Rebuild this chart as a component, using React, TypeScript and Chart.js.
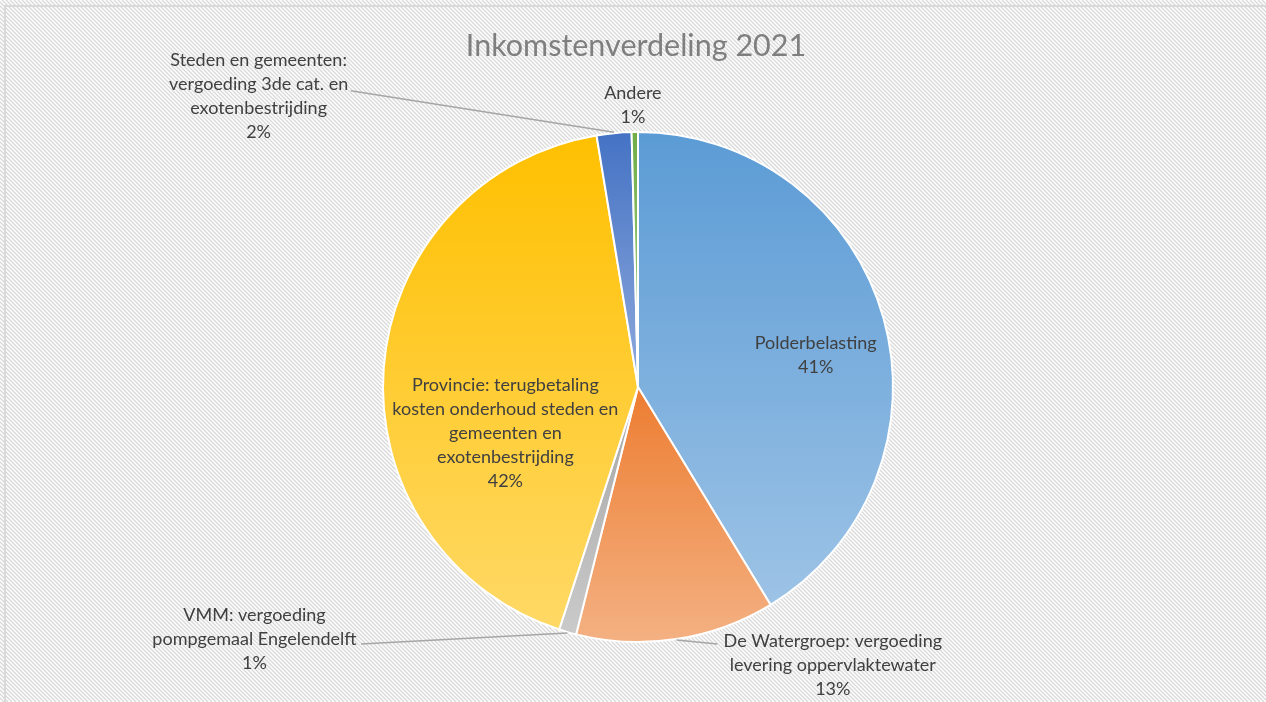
import React, { useEffect, useRef } from "react";
import { Chart, registerables } from "chart.js";

Chart.register(...registerables);

const chartTitle = "Inkomstenverdeling 2021";

const categories = [
  "Polderbelasting",
  "De Watergroep: vergoeding levering oppervlaktewater",
  "VMM: vergoeding pompgemaal Engelendelft",
  "Provincie: terugbetaling kosten onderhoud steden en gemeenten en exotenbestrijding",
  "Steden en gemeenten: vergoeding 3de cat. en exotenbestrijding",
  "Andere",
];

// label text as wrapped in the reference
const labelLines = [
  ["Polderbelasting"],
  ["De Watergroep: vergoeding", "levering oppervlaktewater"],
  ["VMM: vergoeding", "pompgemaal Engelendelft"],
  ["Provincie: terugbetaling", "kosten onderhoud steden en", "gemeenten en", "exotenbestrijding"],
  ["Steden en gemeenten:", "vergoeding 3de cat. en", "exotenbestrijding"],
  ["Andere"],
];

const values = [41.3, 12.6, 1.1, 42.4, 2.2, 0.4];
const percentLabels = ["41%", "13%", "1%", "42%", "2%", "1%"];

const topColors = ["#5b9bd5", "#ed7d31", "#a5a5a5", "#ffc000", "#4472c4", "#70ad47"];
const bottomColors = ["#9dc3e6", "#f4b183", "#cacaca", "#ffd966", "#8faadc", "#a9d18e"];

// label block centres, in units of the pie radius relative to pie centre
const labelPositions: [number, number][] = [
  [0.694, -0.124],
  [0.761, 1.086],
  [-1.498, 0.984],
  [-0.518, 0.182],
  [-1.482, -1.137],
  [-0.02, -1.102],
];

// leader line end points (radius units), null = no leader line
const leaderEnds: ([number, number] | null)[] = [
  null,
  [0.31, 1.004],
  [-1.082, 1.004],
  null,
  [-1.122, -1.157],
  null,
];

const LABEL_FONT = "18px Lato, 'Open Sans', sans-serif";
const TITLE_FONT = "30.5px Lato, 'Open Sans', sans-serif";

function sliceGradient(context: any) {
  const chart = context.chart;
  const area = chart.chartArea;
  const i = context.dataIndex;
  if (!area) return topColors[i];
  const cx = (area.left + area.right) / 2;
  const cy = (area.top + area.bottom) / 2;
  const r = Math.min(area.right - area.left, area.bottom - area.top) / 2;
  const total = values.reduce((a, b) => a + b, 0);
  const before = values.slice(0, i).reduce((a, b) => a + b, 0);
  const start = (before / total) * Math.PI * 2;
  const end = ((before + values[i]) / total) * Math.PI * 2;
  const ys = [cy, cy - r * Math.cos(start), cy - r * Math.cos(end)];
  if (start <= 1e-6 || end >= Math.PI * 2 - 1e-6) ys.push(cy - r);
  if (start <= Math.PI && end >= Math.PI) ys.push(cy + r);
  const yMin = Math.min(...ys);
  const yMax = Math.max(...ys);
  const g = chart.ctx.createLinearGradient(0, yMin, 0, Math.max(yMax, yMin + 1));
  g.addColorStop(0, topColors[i]);
  g.addColorStop(1, bottomColors[i]);
  return g;
}

const backgroundPlugin = {
  id: "hatchBackground",
  beforeDraw(chart: any) {
    const { ctx, width, height } = chart;
    ctx.save();
    ctx.fillStyle = "#ffffff";
    ctx.fillRect(0, 0, width, height);
    ctx.strokeStyle = "#d9d9d9";
    ctx.lineWidth = 1.4;
    ctx.beginPath();
    for (let x = -height; x < width + height; x += 4) {
      ctx.moveTo(x, 0);
      ctx.lineTo(x + height, height);
    }
    ctx.stroke();
    ctx.strokeStyle = "#d9d9d9";
    ctx.lineWidth = 2;
    ctx.strokeRect(5, 6, width + 20, height + 20);
    ctx.restore();
  },
};

const labelPlugin = {
  id: "pieLabels",
  afterDatasetsDraw(chart: any) {
    const { ctx } = chart;
    const meta = chart.getDatasetMeta(0);
    ctx.save();
    // title
    ctx.font = TITLE_FONT;
    ctx.fillStyle = "#7f7f7f";
    ctx.textAlign = "center";
    ctx.textBaseline = "middle";
    ctx.fillText(chartTitle, 636, 46);

    meta.data.forEach((arc: any, i: number) => {
      const { x, y, outerRadius, startAngle, endAngle } = arc.getProps(
        ["x", "y", "outerRadius", "startAngle", "endAngle"],
        true
      );
      const r = outerRadius + 1;
      const mid = (startAngle + endAngle) / 2;
      const le = leaderEnds[i];
      if (le) {
        ctx.strokeStyle = "#a6a6a6";
        ctx.lineWidth = 1.5;
        ctx.beginPath();
        ctx.moveTo(x + Math.cos(mid) * r, y + Math.sin(mid) * r);
        ctx.lineTo(x + le[0] * r, y + le[1] * r);
        ctx.stroke();
      }
      const [fx, fy] = labelPositions[i];
      const lx = x + fx * r;
      const ly = y + fy * r;
      const lines = [...labelLines[i], percentLabels[i]];
      const lh = 24;
      ctx.font = LABEL_FONT;
      ctx.fillStyle = "#404040";
      ctx.textAlign = "center";
      ctx.textBaseline = "middle";
      lines.forEach((t, k) => {
        ctx.fillText(t, lx, ly - ((lines.length - 1) * lh) / 2 + k * lh);
      });
    });
    ctx.restore();
  },
};

export default function App() {
  const ref = useRef<HTMLCanvasElement | null>(null);
  useEffect(() => {
    if (!ref.current) return;
    const chart = new Chart(ref.current, {
      type: "pie",
      data: {
        labels: categories,
        datasets: [
          {
            data: values,
            backgroundColor: sliceGradient as any,
            borderColor: "#ffffff",
            borderWidth: 2,
          },
        ],
      },
      options: {
        responsive: false,
        animation: false,
        devicePixelRatio: 1,
        layout: { padding: { top: 131, bottom: 59, left: 10, right: 0 } },
        plugins: {
          legend: { display: false },
          tooltip: { enabled: false },
          title: { display: false },
        },
      },
      plugins: [backgroundPlugin, labelPlugin],
    });
    return () => chart.destroy();
  }, []);
  return (
    <div style={{ position: "absolute", left: 0, top: 0, width: 1266, height: 702 }}>
      <canvas ref={ref} width={1266} height={702} style={{ width: 1266, height: 702 }} />
    </div>
  );
}
